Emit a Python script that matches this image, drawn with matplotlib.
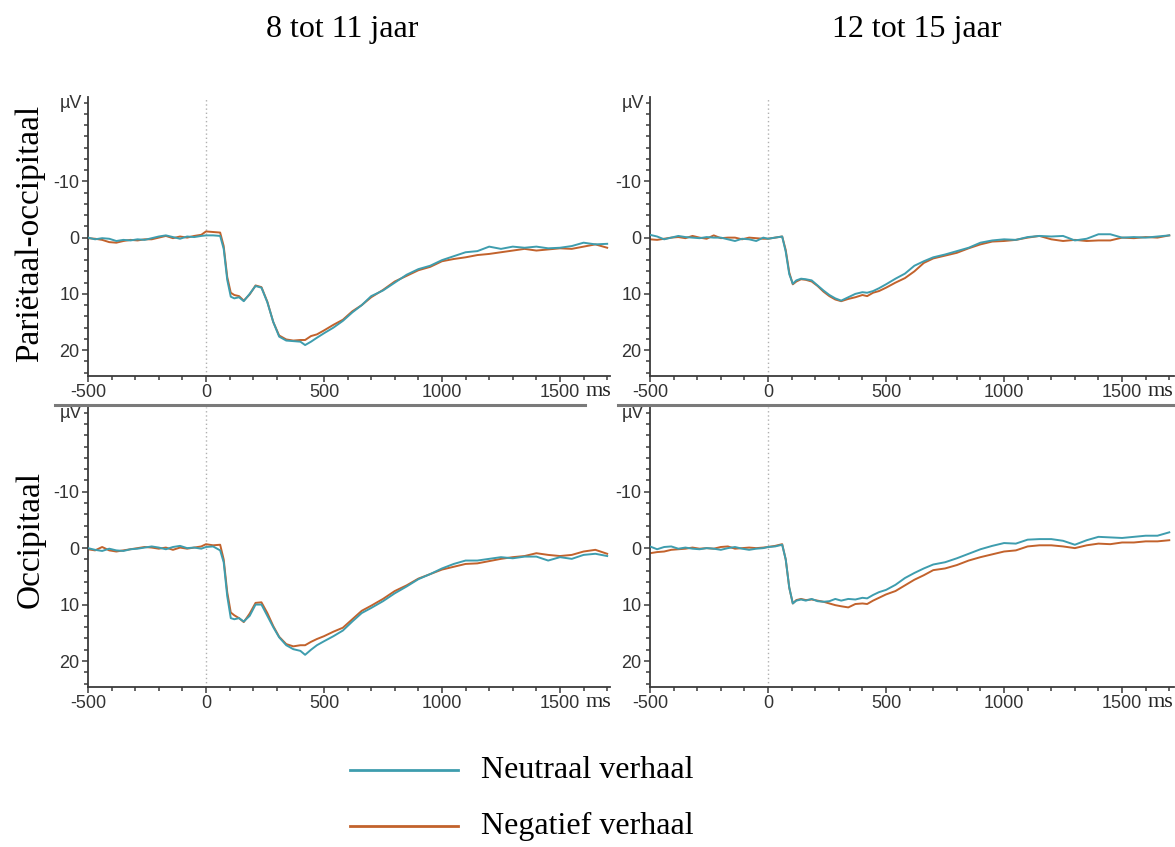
import matplotlib.pyplot as plt
import numpy as np

plt.rcParams['axes.unicode_minus'] = False

# time points (ms)
times = [-500, -470, -440, -410, -380, -350, -320, -290, -260, -230, -200, -170,
         -140, -110, -80, -50, -20, 0, 30, 60, 75, 90, 105, 120, 140, 160, 185,
         210, 235, 260, 285, 310, 340, 370, 400, 420, 445, 470, 500, 540, 580,
         620, 660, 700, 750, 800, 850, 900, 950, 1000, 1050, 1100, 1150, 1200,
         1250, 1300, 1350, 1400, 1450, 1500, 1550, 1600, 1650, 1700]

# amplitudes (microvolt), parietal-occipital, 8-11 years
po_young_neu = [0.0, 0.3, 0.1, 0.2, 0.6, 0.4, 0.5, 0.3, 0.4, 0.1, -0.2, -0.4,
                -0.1, 0.2, -0.2, -0.1, -0.3, -0.4, -0.4, -0.3, 2.0, 7.5, 10.5, 10.8, 10.6, 11.3, 10.0,
                8.6, 8.9, 11.5, 15.0, 17.6, 18.3, 18.4, 18.5, 19.1, 18.5, 17.8, 17.0, 16.0, 14.8,
                13.3, 12.0, 10.4, 9.4, 8.0, 6.6, 5.6, 5.0, 4.0, 3.3, 2.6, 2.4, 1.6,
                2.0, 1.6, 1.8, 1.6, 1.9, 1.8, 1.5, 0.9, 1.2, 1.1]
po_young_neg = [0.1, 0.2, 0.4, 0.8, 0.9, 0.6, 0.4, 0.5, 0.3, 0.3, 0.0, -0.3,
                0.1, -0.2, 0.0, -0.3, -0.5, -1.1, -1.0, -0.9, 1.5, 7.0, 9.8, 10.2, 10.4, 11.2, 10.1,
                8.5, 8.8, 11.4, 15.0, 17.4, 18.1, 18.3, 18.2, 18.2, 17.5, 17.2, 16.5, 15.5, 14.6,
                13.1, 12.0, 10.6, 9.3, 7.8, 6.8, 5.8, 5.2, 4.2, 3.8, 3.5, 3.1, 2.9,
                2.6, 2.3, 2.0, 2.3, 2.1, 1.9, 2.0, 1.6, 1.2, 1.8]
# parietal-occipital, 12-15 years
po_old_neu = [-0.5, -0.2, 0.3, 0.0, -0.3, -0.1, 0.0, 0.1, -0.1, 0.0, 0.0, 0.3,
              0.6, 0.2, 0.3, 0.6, 0.0, 0.2, 0.0, -0.2, 2.5, 6.5, 8.2, 7.6, 7.3, 7.4, 7.6,
              8.5, 9.4, 10.2, 10.8, 11.2, 10.6, 10.0, 9.7, 9.8, 9.5, 9.0, 8.3, 7.3, 6.4,
              5.0, 4.2, 3.5, 3.0, 2.4, 1.8, 0.9, 0.5, 0.3, 0.4, -0.1, -0.3, -0.2,
              -0.3, 0.5, 0.2, -0.6, -0.6, 0.0, -0.1, 0.0, -0.2, -0.4]
po_old_neg = [0.3, 0.4, 0.2, 0.0, -0.1, 0.1, -0.3, 0.0, 0.2, -0.4, 0.1, 0.0,
              0.0, 0.3, 0.0, 0.1, 0.2, 0.2, 0.0, -0.2, 2.2, 6.2, 8.3, 7.8, 7.4, 7.5, 7.8,
              8.6, 9.6, 10.4, 11.0, 11.3, 10.9, 10.6, 10.2, 10.4, 9.8, 9.5, 8.9, 8.0, 7.2,
              6.0, 4.5, 3.7, 3.2, 2.7, 1.9, 1.2, 0.7, 0.6, 0.4, 0.0, -0.3, 0.3,
              0.6, 0.4, 0.6, 0.5, 0.5, 0.0, 0.1, -0.1, 0.0, -0.4]
# occipital, 8-11 years
o_young_neu = [0.0, 0.3, 0.5, 0.1, 0.4, 0.5, 0.2, 0.1, -0.1, -0.3, -0.1, 0.2,
               -0.2, -0.4, 0.0, -0.1, 0.1, -0.2, -0.3, 0.4, 2.5, 8.5, 12.4, 12.6, 12.4, 13.0, 12.0,
               10.0, 10.0, 12.0, 14.0, 15.8, 17.2, 17.9, 18.2, 18.9, 18.0, 17.2, 16.5, 15.6, 14.6,
               13.0, 11.5, 10.6, 9.4, 8.0, 6.8, 5.5, 4.6, 3.6, 2.8, 2.2, 2.2, 1.9,
               1.6, 1.8, 1.5, 1.5, 2.2, 1.6, 1.9, 1.2, 1.0, 1.4]
o_young_neg = [0.2, 0.4, -0.2, 0.4, 0.6, 0.4, 0.2, 0.0, -0.2, -0.1, 0.1, -0.1,
               0.3, -0.1, 0.1, -0.1, -0.3, -0.7, -0.5, -0.6, 2.0, 7.8, 11.4, 11.9, 12.4, 13.1, 11.6,
               9.7, 9.6, 11.5, 13.8, 15.7, 17.0, 17.4, 17.2, 17.2, 16.6, 16.1, 15.6, 14.8, 14.1,
               12.6, 11.1, 10.2, 9.0, 7.6, 6.6, 5.4, 4.6, 3.8, 3.3, 2.8, 2.7, 2.3,
               1.9, 1.6, 1.4, 0.9, 1.2, 1.4, 1.2, 0.6, 0.3, 1.0]
# occipital, 12-15 years
o_old_neu = [-0.3, 0.2, -0.2, -0.3, 0.1, -0.1, 0.1, 0.2, 0.0, 0.1, 0.3, 0.0,
             -0.2, 0.1, 0.3, 0.1, 0.0, -0.2, -0.3, -0.6, 2.0, 7.0, 9.8, 9.3, 9.1, 9.3, 9.0,
             9.4, 9.5, 9.4, 9.0, 9.3, 9.0, 9.1, 8.8, 8.9, 8.3, 7.8, 7.4, 6.5, 5.3,
             4.4, 3.6, 2.9, 2.5, 1.8, 1.0, 0.2, -0.4, -0.9, -0.8, -1.5, -1.6, -1.6,
             -1.3, -0.6, -1.4, -2.0, -1.9, -1.8, -2.0, -2.2, -2.2, -2.8]
o_old_neg = [0.9, 0.7, 0.6, 0.3, 0.2, 0.1, -0.1, 0.1, 0.0, 0.1, -0.2, -0.3,
             0.1, 0.0, -0.1, 0.0, -0.1, -0.2, -0.4, -0.7, 2.0, 7.0, 9.8, 9.2, 9.0, 9.2, 9.1,
             9.3, 9.5, 9.8, 10.1, 10.3, 10.5, 9.9, 9.8, 9.9, 9.3, 8.8, 8.2, 7.6, 6.6,
             5.6, 4.8, 3.9, 3.6, 3.0, 2.2, 1.6, 1.1, 0.6, 0.4, -0.3, -0.5, -0.5,
             -0.3, 0.0, -0.5, -0.8, -0.7, -1.0, -1.0, -1.2, -1.2, -1.4]

col_titles = ['8 tot 11 jaar', '12 tot 15 jaar']
row_titles = ['Pariëtaal-occipitaal', 'Occipitaal']
legend_labels = ['Neutraal verhaal', 'Negatief verhaal']

C_NEU = '#3e9dae'
C_NEG = '#c2622c'
W, H = 1175, 847
SERIF = 'Liberation Serif'
SANS = 'Liberation Sans'


def px_axes(fig, x0, y0, x1, y1):
    # pixel box (top-left origin) -> axes
    return fig.add_axes([x0 / W, 1 - y1 / H, (x1 - x0) / W, (y1 - y0) / H])


def erp_panel(ax, neu, neg, xmax):
    t = np.array(times)
    ax.axvline(0, color='#b0b0b0', lw=1, ls=(0, (1, 2)), zorder=1)
    ax.plot(t, neu, color=C_NEU, lw=1.4, zorder=3)
    ax.plot(t, neg, color=C_NEG, lw=1.4, zorder=2)
    ax.set_xlim(-500, xmax)
    ax.set_ylim(24.6, -25)
    for s in ['top', 'right']:
        ax.spines[s].set_visible(False)
    for s in ['left', 'bottom']:
        ax.spines[s].set_color('#3a3a3a')
        ax.spines[s].set_linewidth(1.3)
    ax.set_xticks([-500, 0, 500, 1000, 1500])
    ax.set_xticks(np.arange(-400, 1701, 100), minor=True)
    ax.set_yticks([-10, 0, 10, 20])
    ax.set_yticks(np.arange(-24, 25, 2), minor=True)
    ax.tick_params(which='both', direction='out', color='#3a3a3a', width=1.1,
                   labelsize=13, labelcolor='#333333', pad=2)
    ax.tick_params(which='major', length=4)
    ax.tick_params(which='minor', length=3)
    for lab in ax.get_xticklabels() + ax.get_yticklabels():
        lab.set_fontfamily(SANS)
    ax.text(-0.012, 0.975, 'µV', transform=ax.transAxes, ha='right', va='center',
            fontsize=13, color='#333333', family=SANS)
    ax.text(1661, -0.022, 'ms', ha='center', va='top', fontsize=16, family=SERIF,
            color='#222222', transform=ax.get_xaxis_transform(), clip_on=False)
    ax.patch.set_alpha(0)


fig = plt.figure(figsize=(W / 100, H / 100), dpi=100)

boxes = [(88, 97, 610, 376), (650, 97, 1174, 376),
         (88, 407, 610, 687), (650, 407, 1174, 687)]
data = [(po_young_neu, po_young_neg, 1712), (po_old_neu, po_old_neg, 1720),
        (o_young_neu, o_young_neg, 1712), (o_old_neu, o_old_neg, 1720)]
for box, (neu, neg, xmax) in zip(boxes, data):
    ax = px_axes(fig, *box)
    erp_panel(ax, neu, neg, xmax)

# separator bars between the rows
for x0, x1 in [(55, 585), (618, 1175)]:
    fig.add_artist(plt.Line2D([x0 / W, x1 / W], [1 - 405 / H] * 2,
                              color='#7a7a7a', lw=2.2))

# column and row titles
for x, s in zip([342, 917], col_titles):
    fig.text(x / W, 1 - 30 / H, s, ha='center', va='center', fontsize=23, family=SERIF)
for y, s in zip([233, 539], row_titles):
    fig.text(30 / W, 1 - y / H, s, ha='center', va='center', rotation=90,
             fontsize=24, family=SERIF)

# legend
for y, c, s in zip([770, 826], [C_NEU, C_NEG], legend_labels):
    fig.add_artist(plt.Line2D([350 / W, 458 / W], [1 - y / H] * 2, color=c, lw=2))
    fig.text(481 / W, 1 - y / H, s, ha='left', va='center', fontsize=23, family=SERIF)

fig.savefig('out.png', dpi=100)
